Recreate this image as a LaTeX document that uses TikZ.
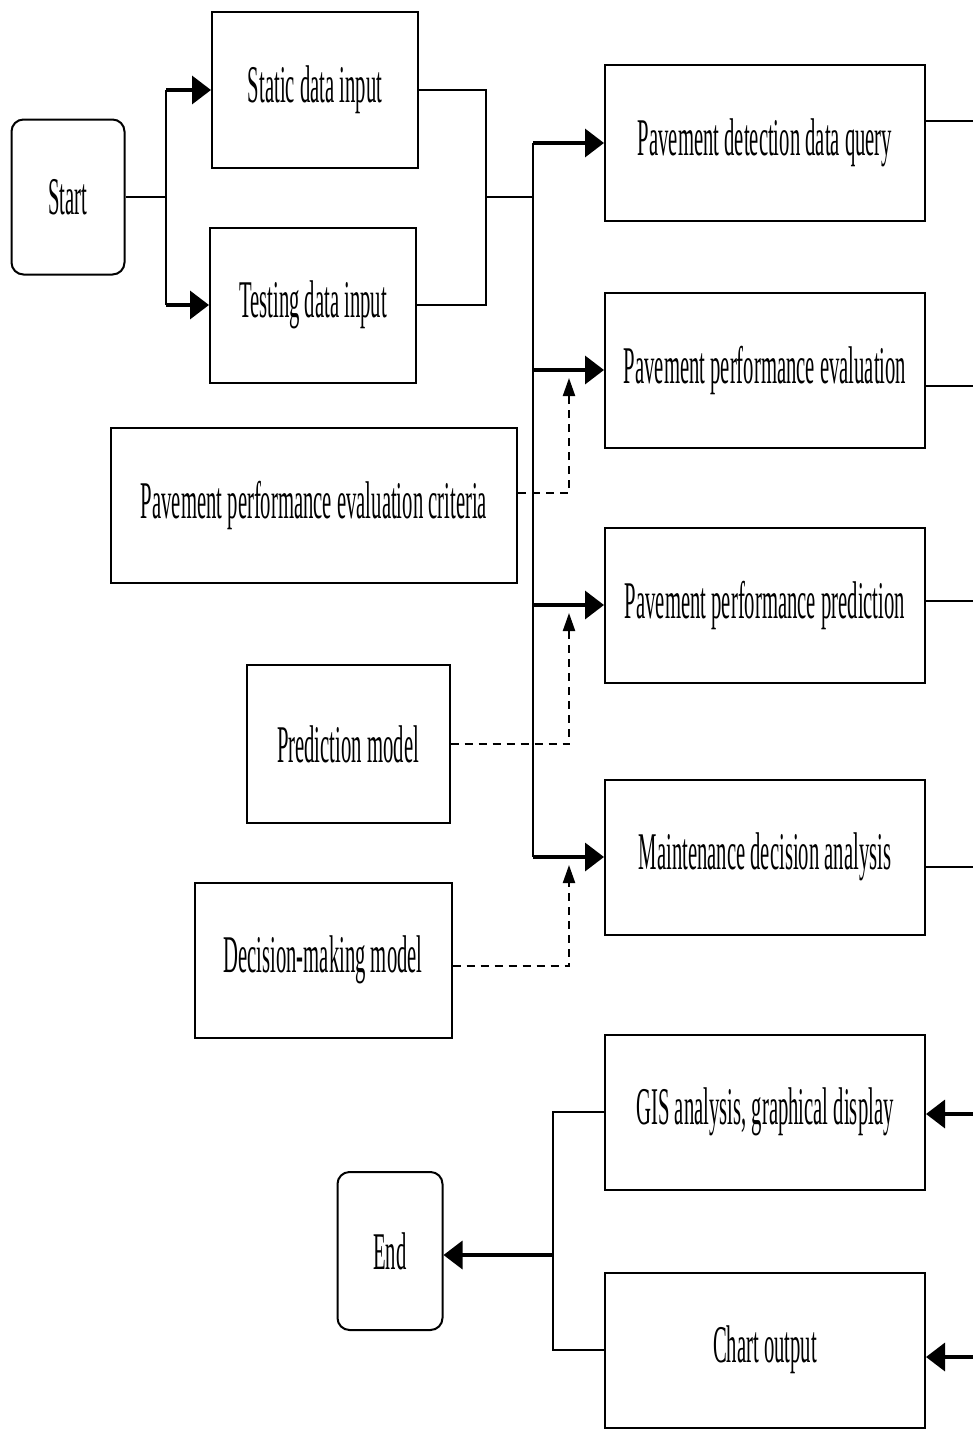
\documentclass[tikz,border=0pt]{standalone}
\usepackage{fontspec}
\setmainfont{Liberation Serif}[FakeStretch=0.39]
\usetikzlibrary{arrows.meta}
\tikzset{
    flow-box/.style = {draw=black, fill=white, line width=2pt, rectangle, minimum height=155pt, inner sep=0pt, font=\fontsize{53}{60}\selectfont},
    term-box/.style = {flow-box, rounded corners=12pt},
    flow-line/.style = {line width=2.2pt},
    flow-arrow/.style = {line width=3.5pt, -{Triangle[length=19pt, width=28pt]}},
    hint-arrow/.style = {line width=2.2pt, dash pattern=on 8pt off 6pt, -{Triangle[length=18pt, width=12pt]}, shorten >=8pt},
}

\begin{document}
\begin{tikzpicture}[x=1pt, y=-1pt]
\useasboundingbox (0,0) rectangle (973,1429);

% input side
\node [term-box, minimum width=113pt] (start) at (68,197) {Start};
\node [flow-box, minimum width=206pt] (static) at (315,90) {Static data input};
\node [flow-box, minimum width=206pt] (testing) at (313,305) {Testing data input};
\node [flow-box, minimum width=406pt] (criteria) at (314,505) {Pavement performance evaluation criteria};
\node [flow-box, minimum width=203pt, minimum height=158pt] (predmodel) at (348,744) {Prediction model};
\node [flow-box, minimum width=257pt] (decmodel) at (323,960) {Decision-making model};
\node [term-box, minimum width=105pt, minimum height=158pt] (end) at (390,1251) {End};

% processing column
\node [flow-box, minimum width=320pt] (detect) at (765,143) {Pavement detection data query};
\node [flow-box, minimum width=320pt] (evaluate) at (765,370) {Pavement performance evaluation};
\node [flow-box, minimum width=320pt] (predict) at (765,605) {Pavement performance prediction};
\node [flow-box, minimum width=320pt] (maintain) at (765,857) {Maintenance decision analysis};
\node [flow-box, minimum width=320pt] (gis) at (765,1112) {GIS analysis, graphical display};
\node [flow-box, minimum width=320pt] (chart) at (765,1350) {Chart output};

\coordinate (split) at (166,197);
\coordinate (merge) at (486,197);
\coordinate (trunk) at (533,197);
\coordinate (hint-col) at (569,0);
\coordinate (gather) at (553,1255);

% start -> inputs
\draw[flow-line] (start.east) -- (split);
\draw[flow-line] (split |- static.west) -- (split |- testing.west);
\draw[flow-arrow] (split |- static.west) -- (static.west);
\draw[flow-arrow] (split |- testing.west) -- (testing.west);

% inputs -> trunk
\draw[flow-line] (static.east) -| (merge) |- (testing.east);
\draw[flow-line] (merge) -- (trunk);
\draw[flow-line] (trunk |- detect.west) -- (trunk |- maintain.west);
\draw[flow-arrow] (trunk |- detect.west) -- (detect.west);
\draw[flow-arrow] (trunk |- evaluate.west) -- (evaluate.west);
\draw[flow-arrow] (trunk |- predict.west) -- (predict.west);
\draw[flow-arrow] (trunk |- maintain.west) -- (maintain.west);

% models feed in
\draw[hint-arrow] ([yshift=12pt]criteria.east) -| (evaluate.west -| hint-col);
\draw[hint-arrow] (predmodel.east) -| (predict.west -| hint-col);
\draw[hint-arrow] ([yshift=-6pt]decmodel.east) -| (maintain.west -| hint-col);

% right edge
\coordinate (out-detect) at (973,121);
\coordinate (out-evaluate) at (973,386);
\coordinate (out-predict) at (973,601);
\coordinate (out-maintain) at (973,867);
\coordinate (in-gis) at (973,1114);
\coordinate (in-chart) at (973,1357);
\draw[flow-line] (detect.east |- out-detect) -- (out-detect);
\draw[flow-line] (evaluate.east |- out-evaluate) -- (out-evaluate);
\draw[flow-line] (predict.east |- out-predict) -- (out-predict);
\draw[flow-line] (maintain.east |- out-maintain) -- (out-maintain);
\draw[flow-arrow] (in-gis) -- (gis.east |- in-gis);
\draw[flow-arrow] (in-chart) -- (chart.east |- in-chart);

% outputs -> end
\draw[flow-line] (gis.west) -| (gather) |- (chart.west);
\draw[flow-arrow] (gather) -- (end.east |- gather);
\end{tikzpicture}
\end{document}
